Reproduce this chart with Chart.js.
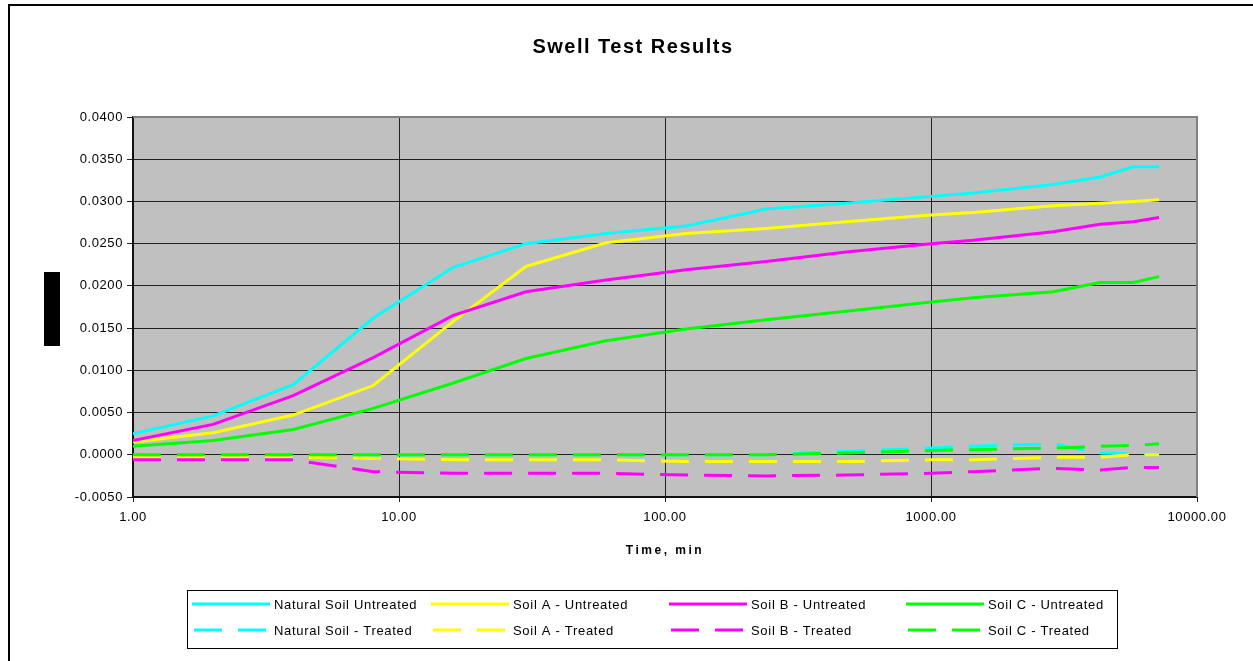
<!DOCTYPE html>
<html>
<head>
<meta charset="utf-8">
<script src="https://cdn.jsdelivr.net/npm/chart.js@4/dist/chart.umd.min.js"></script>
<style>
  html, body { margin: 0; padding: 0; background: #fff; }
  canvas { display: block; }
</style>
</head>
<body>
<canvas id="swellChart" width="1253" height="661"></canvas>
<script>
// time in minutes
const times = [1, 2, 4, 8, 16, 30, 60, 120, 240, 480, 1000, 1440, 2880, 4320, 5760, 7200];

const naturalUntreated = [0.0025, 0.0046, 0.0083, 0.0162, 0.0222, 0.0250, 0.0262, 0.0271, 0.0291, 0.0298, 0.0306, 0.0310, 0.0320, 0.0329, 0.0341, 0.0341];
const soilAUntreated = [0.0015, 0.0026, 0.0047, 0.0082, 0.0158, 0.0223, 0.0251, 0.0262, 0.0268, 0.0276, 0.0284, 0.0287, 0.0295, 0.0298, 0.0300, 0.0302];
const soilBUntreated = [0.0017, 0.0036, 0.0070, 0.0115, 0.0165, 0.0193, 0.0207, 0.0219, 0.0229, 0.0240, 0.0250, 0.0254, 0.0264, 0.0273, 0.0276, 0.0281];
const soilCUntreated = [0.0010, 0.0017, 0.0030, 0.0055, 0.0085, 0.0114, 0.0135, 0.0149, 0.0160, 0.0170, 0.0181, 0.0186, 0.0193, 0.0204, 0.0204, 0.0211];

const naturalTreated = [0.0000, 0.0000, 0.0000, 0.0000, 0.0000, 0.0000, 0.0000, 0.0000, 0.0000, 0.0004, 0.0008, 0.0010, 0.0013, 0.0002, 0.0001, 0.0000];
const soilATreated = [-0.0003, -0.0003, -0.0003, -0.0004, -0.0006, -0.0006, -0.0006, -0.0008, -0.0008, -0.0008, -0.0006, -0.0006, -0.0003, -0.0003, 0.0000, 0.0000];
const soilBTreated = [-0.0006, -0.0006, -0.0006, -0.0020, -0.0022, -0.0022, -0.0022, -0.0024, -0.0025, -0.0024, -0.0022, -0.0020, -0.0016, -0.0018, -0.0015, -0.0015];
const soilCTreated = [0.0000, 0.0000, 0.0000, 0.0000, 0.0000, 0.0000, 0.0000, 0.0000, 0.0000, 0.0002, 0.0005, 0.0006, 0.0008, 0.0010, 0.0011, 0.0013];

const xTicks = [1, 10, 100, 1000, 10000];

const seriesNames = [
  'Natural Soil Untreated', 'Soil A - Untreated', 'Soil B - Untreated', 'Soil C - Untreated',
  'Natural Soil - Treated', 'Soil A - Treated', 'Soil B - Treated', 'Soil C - Treated'
];
const seriesValues = [
  naturalUntreated, soilAUntreated, soilBUntreated, soilCUntreated,
  naturalTreated, soilATreated, soilBTreated, soilCTreated
];
const seriesColors = ['#00FFFF', '#FFFF00', '#FF00FF', '#00FF00', '#00FFFF', '#FFFF00', '#FF00FF', '#00FF00'];
const DASH = [28, 16];
const FONT = 'Arial, "Liberation Sans", sans-serif';

const datasets = seriesNames.map(function (name, i) {
  return {
    label: name,
    data: times.map(function (t, j) { return { x: t, y: seriesValues[i][j] }; }),
    borderColor: seriesColors[i],
    backgroundColor: seriesColors[i],
    borderWidth: 3,
    borderDash: i >= 4 ? DASH : [],
    borderCapStyle: 'butt',
    pointRadius: 0,
    tension: 0,
    fill: false,
    order: seriesNames.length - i   // later series painted on top
  };
});

const chartFrame = {
  id: 'chartFrame',
  beforeDraw(chart) {
    const ctx = chart.ctx;
    const a = chart.chartArea;
    ctx.save();
    ctx.fillStyle = '#fff';
    ctx.fillRect(0, 0, chart.width, chart.height);
    ctx.fillStyle = '#C0C0C0';
    ctx.fillRect(a.left, a.top, a.right - a.left, a.bottom - a.top);
    ctx.restore();
    ctx.letterSpacing = '0.6px';
  },
  beforeDatasetsDraw(chart) {
    const ctx = chart.ctx;
    const a = chart.chartArea;
    ctx.save();
    ctx.strokeStyle = '#808080';
    ctx.lineWidth = 2;
    ctx.beginPath();
    ctx.moveTo(a.left, a.top);
    ctx.lineTo(a.right, a.top);
    ctx.lineTo(a.right, a.bottom);
    ctx.stroke();
    ctx.restore();
  },
  afterDraw(chart) {
    const ctx = chart.ctx;
    const a = chart.chartArea;
    ctx.save();

    // outer chart border
    ctx.strokeStyle = '#000';
    ctx.lineWidth = 2;
    ctx.strokeRect(9, 5, chart.width + 20, chart.height + 20);

    // title
    ctx.fillStyle = '#000';
    ctx.textAlign = 'center';
    ctx.textBaseline = 'middle';
    ctx.letterSpacing = '1.5px';
    ctx.font = 'bold 20px ' + FONT;
    ctx.fillText('Swell Test Results', 633, 47);

    // x axis title
    ctx.letterSpacing = '2.5px';
    ctx.font = 'bold 12px ' + FONT;
    ctx.fillText('Time, min', (a.left + a.right) / 2, 551);

    // y axis title block (black box in the original)
    ctx.fillRect(44, 272, 16, 74);

    // legend
    ctx.strokeStyle = '#000';
    ctx.lineWidth = 1;
    ctx.strokeRect(187.5, 590.5, 930, 58);
    const colX = [192, 431, 669, 906];
    const rowY = [604, 630];
    ctx.font = '13px ' + FONT;
    ctx.letterSpacing = '0.7px';
    ctx.textAlign = 'left';
    chart.data.datasets.forEach(function (ds, i) {
      const x0 = colX[i % 4];
      const y0 = rowY[Math.floor(i / 4)];
      ctx.strokeStyle = ds.borderColor;
      ctx.lineWidth = 3;
      ctx.lineCap = 'butt';
      ctx.setLineDash(ds.borderDash);
      ctx.lineDashOffset = -2;
      ctx.beginPath();
      ctx.moveTo(x0, y0);
      ctx.lineTo(x0 + 78, y0);
      ctx.stroke();
      ctx.setLineDash([]);
      ctx.fillStyle = '#000';
      ctx.fillText(ds.label, x0 + 82, y0 + 1);
    });
    ctx.restore();
  }
};

new Chart(document.getElementById('swellChart'), {
  type: 'line',
  data: { datasets: datasets },
  options: {
    responsive: false,
    animation: false,
    devicePixelRatio: 1,
    layout: { padding: { left: 0, right: 56, top: 117, bottom: 0 } },
    plugins: {
      legend: { display: false },
      title: { display: false },
      tooltip: { enabled: false }
    },
    scales: {
      x: {
        type: 'logarithmic',
        min: 1,
        max: 10000,
        afterFit(scale) { scale.height = 164; },
        afterBuildTicks(scale) {
          scale.ticks = xTicks.map(function (v) { return { value: v }; });
        },
        grid: {
          color: function (c) { return c.tick && c.tick.value === 10000 ? 'rgba(0,0,0,0)' : '#222'; },
          lineWidth: 1,
          tickLength: 5,
          tickColor: '#222'
        },
        border: { color: '#111', width: 2 },
        ticks: {
          color: '#000',
          font: { family: FONT, size: 13 },
          padding: 8,
          maxRotation: 0,
          autoSkip: false,
          callback: function (v) { return Number(v).toFixed(2); }
        }
      },
      y: {
        min: -0.005,
        max: 0.04,
        afterFit(scale) { scale.width = 133; },
        grid: {
          color: function (c) { return c.tick && Math.abs(c.tick.value - 0.04) < 1e-9 ? 'rgba(0,0,0,0)' : '#222'; },
          lineWidth: 1,
          tickLength: 6,
          tickColor: '#222'
        },
        border: { color: '#111', width: 2 },
        ticks: {
          stepSize: 0.005,
          color: '#000',
          font: { family: FONT, size: 13 },
          padding: 4,
          callback: function (v) { return Number(v).toFixed(4); }
        }
      }
    }
  },
  plugins: [chartFrame]
});
</script>
</body>
</html>
